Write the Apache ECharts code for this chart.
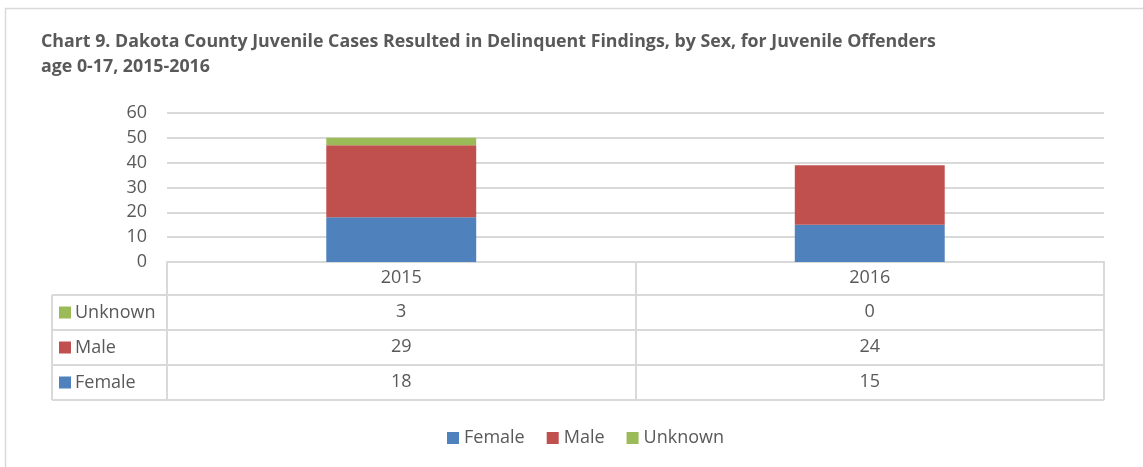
<!DOCTYPE html>
<html>
<head>
<meta charset="utf-8">
<script src="https://cdn.jsdelivr.net/npm/echarts@6/dist/echarts.min.js"></script>
<style>
  html, body { margin: 0; padding: 0; background: #fff; }
  #chart { width: 1143px; height: 467px; }
</style>
</head>
<body>
<div id="chart"></div>
<script>
// data
const years = ['2015', '2016']
const female = [18, 15]
const male = [29, 24]
const unknown = [3, 0]
const yTicks = [0, 10, 20, 30, 40, 50, 60]

const seriesNames = ['Female', 'Male', 'Unknown']
const colors = ['#4F81BD', '#C0504D', '#9BBB59']
// table rows top to bottom, as in the original
const tableRows = [
  { name: 'Unknown', color: colors[2], values: unknown },
  { name: 'Male', color: colors[1], values: male },
  { name: 'Female', color: colors[0], values: female }
]

const FONT = '"Open Sans", Lato, sans-serif'
const FS = 18
const TEXT = '#595959'
const LINE = '#D9D9D9'

// layout
const GRID_LEFT = 167
const GRID_RIGHT = 39
const GRID_TOP = 113
const AXIS_Y = 262
const HEADER_H = 33
const ROW_H = 35
const TABLE_LEFT = 52
const W = 1143

const chart = echarts.init(document.getElementById('chart'))

let tableAxes = tableRows.map((row, i) => ({
  type: 'category',
  gridIndex: 0,
  position: 'bottom',
  offset: HEADER_H + ROW_H * i,
  data: row.values.map(String),
  axisLine: { show: false },
  axisTick: { show: false },
  axisLabel: { color: TEXT, fontSize: FS, fontFamily: FONT, margin: 8 }
}))

let graphic = []
// outer border
graphic.push({
  type: 'polyline',
  shape: { points: [[5.5, 470], [5.5, 8.5], [W + 5, 8.5]] },
  style: { stroke: LINE, lineWidth: 1.5, fill: null }
})
// horizontal table lines
let tableBottom = AXIS_Y + HEADER_H + ROW_H * tableRows.length
for (let i = 0; i <= tableRows.length; i++) {
  let y = AXIS_Y + HEADER_H + ROW_H * i
  graphic.push({
    type: 'line',
    shape: { x1: TABLE_LEFT, y1: y, x2: W - GRID_RIGHT, y2: y },
    style: { stroke: LINE, lineWidth: 2 }
  })
}
// left edge of the table
graphic.push({
  type: 'line',
  shape: { x1: TABLE_LEFT, y1: AXIS_Y + HEADER_H, x2: TABLE_LEFT, y2: tableBottom },
  style: { stroke: LINE, lineWidth: 2 }
})
// row keys
tableRows.forEach((row, i) => {
  let cy = AXIS_Y + HEADER_H + ROW_H * i + ROW_H / 2
  graphic.push({
    type: 'rect',
    shape: { x: 59, y: cy - 6, width: 12, height: 12 },
    style: { fill: row.color }
  })
  graphic.push({
    type: 'text',
    x: 75,
    y: cy,
    style: {
      text: row.name,
      fill: TEXT,
      font: FS + 'px ' + FONT,
      verticalAlign: 'middle'
    }
  })
})

let option = {
  animation: false,
  textStyle: { fontFamily: FONT },
  title: {
    text: 'Chart 9. Dakota County Juvenile Cases Resulted in Delinquent Findings, by Sex, for Juvenile Offenders\nage 0-17, 2015-2016',
    left: 36,
    top: 24,
    textStyle: {
      color: TEXT,
      fontSize: 17.8,
      fontWeight: 'bold',
      fontFamily: FONT,
      lineHeight: 25
    }
  },
  legend: {
    data: seriesNames,
    left: 442,
    top: 424,
    icon: 'rect',
    itemWidth: 12,
    itemHeight: 12,
    itemGap: 22,
    textStyle: { color: TEXT, fontSize: FS, fontFamily: FONT }
  },
  grid: {
    left: GRID_LEFT,
    right: GRID_RIGHT,
    top: GRID_TOP,
    bottom: 467 - AXIS_Y
  },
  xAxis: [
    {
      type: 'category',
      data: years,
      axisLine: { lineStyle: { color: LINE, width: 2 } },
      axisTick: {
        show: true,
        length: tableBottom - AXIS_Y,
        lineStyle: { color: LINE, width: 2 }
      },
      axisLabel: { color: TEXT, fontSize: FS, fontFamily: FONT, margin: 7 }
    }
  ].concat(tableAxes),
  yAxis: {
    type: 'value',
    min: yTicks[0],
    max: yTicks[yTicks.length - 1],
    interval: 10,
    axisLine: { show: false },
    axisTick: { show: false },
    axisLabel: { color: TEXT, fontSize: FS, fontFamily: FONT, margin: 20 },
    splitLine: { lineStyle: { color: LINE, width: 2 } }
  },
  series: [
    { name: 'Female', type: 'bar', stack: 'sex', data: female, barWidth: '32%', itemStyle: { color: colors[0] } },
    { name: 'Male', type: 'bar', stack: 'sex', data: male, barWidth: '32%', itemStyle: { color: colors[1] } },
    { name: 'Unknown', type: 'bar', stack: 'sex', data: unknown, barWidth: '32%', itemStyle: { color: colors[2] } }
  ],
  graphic: graphic
}

chart.setOption(option)
</script>
</body>
</html>
